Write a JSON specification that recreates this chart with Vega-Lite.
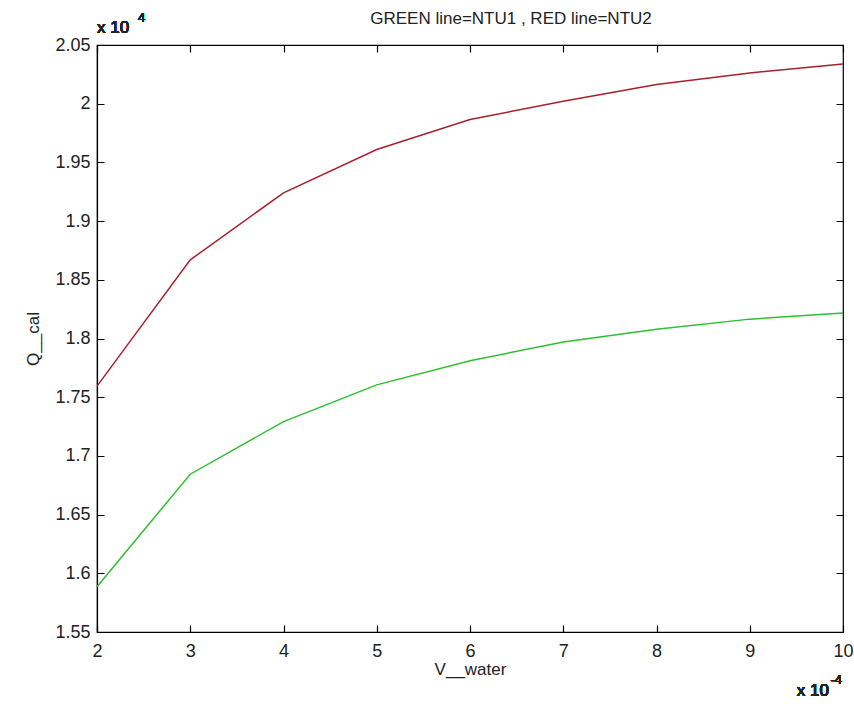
{
  "$schema": "https://vega.github.io/schema/vega-lite/v6.json",
  "width": 746,
  "height": 587,
  "autosize": {"type": "none"},
  "padding": {"left": 97, "top": 45, "right": 11, "bottom": 72},
  "background": "white",
  "title": {
    "text": "GREEN line=NTU1 , RED line=NTU2",
    "fontSize": 17,
    "fontWeight": "normal",
    "font": "Liberation Sans",
    "color": "#222222",
    "anchor": "middle",
    "dx": 41,
    "offset": -16
  },
  "data": {
    "values": [
      {"V_water": 0.0002, "Q_cal": 15886, "series": "NTU1"},
      {"V_water": 0.0003, "Q_cal": 16844, "series": "NTU1"},
      {"V_water": 0.0004, "Q_cal": 17292, "series": "NTU1"},
      {"V_water": 0.0005, "Q_cal": 17605, "series": "NTU1"},
      {"V_water": 0.0006, "Q_cal": 17810, "series": "NTU1"},
      {"V_water": 0.0007, "Q_cal": 17971, "series": "NTU1"},
      {"V_water": 0.0008, "Q_cal": 18079, "series": "NTU1"},
      {"V_water": 0.0009, "Q_cal": 18165, "series": "NTU1"},
      {"V_water": 0.001, "Q_cal": 18218, "series": "NTU1"},
      {"V_water": 0.0002, "Q_cal": 17594, "series": "NTU2"},
      {"V_water": 0.0003, "Q_cal": 18670, "series": "NTU2"},
      {"V_water": 0.0004, "Q_cal": 19241, "series": "NTU2"},
      {"V_water": 0.0005, "Q_cal": 19610, "series": "NTU2"},
      {"V_water": 0.0006, "Q_cal": 19865, "series": "NTU2"},
      {"V_water": 0.0007, "Q_cal": 20021, "series": "NTU2"},
      {"V_water": 0.0008, "Q_cal": 20164, "series": "NTU2"},
      {"V_water": 0.0009, "Q_cal": 20262, "series": "NTU2"},
      {"V_water": 0.001, "Q_cal": 20338, "series": "NTU2"}
    ]
  },
  "layer": [
    {
      "mark": {"type": "line", "strokeWidth": 1.5, "clip": true},
      "encoding": {
        "x": {
          "field": "V_water",
          "type": "quantitative",
          "scale": {"domain": [0.0002, 0.001], "nice": false, "zero": false},
          "axis": {
            "orient": "bottom",
            "title": "V__water",
            "values": [0.0002, 0.0003, 0.0004, 0.0005, 0.0006, 0.0007, 0.0008, 0.0009, 0.001],
            "labelExpr": "'' + round(datum.value * 10000)",
            "ticks": false,
            "grid": true,
            "gridColor": "black",
            "gridWidth": 1.2,
            "gridDash": [7, 573, 7],
            "labelPadding": 10,
            "titlePadding": 1
          }
        },
        "y": {
          "field": "Q_cal",
          "type": "quantitative",
          "scale": {"domain": [15500, 20500], "nice": false, "zero": false},
          "axis": {
            "orient": "left",
            "title": "Q__cal",
            "values": [15500, 16000, 16500, 17000, 17500, 18000, 18500, 19000, 19500, 20000, 20500],
            "labelExpr": "'' + (datum.value / 10000)",
            "ticks": false,
            "grid": true,
            "gridColor": "black",
            "gridWidth": 1.2,
            "gridDash": [7, 732, 7],
            "labelPadding": 7,
            "titlePadding": 12
          }
        },
        "color": {
          "field": "series",
          "type": "nominal",
          "scale": {"domain": ["NTU1", "NTU2"], "range": ["#2fbf2f", "#a8202c"]},
          "legend": null
        },
        "detail": {"field": "series"}
      }
    },
    {
      "mark": {"type": "text", "text": "x 10", "align": "left", "baseline": "alphabetic", "dy": -12, "fontSize": 17, "fontWeight": "normal", "font": "Liberation Sans", "color": "#222222"},
      "encoding": {
        "x": {"datum": 0.0002, "type": "quantitative", "axis": null},
        "y": {"datum": 20500, "type": "quantitative", "axis": null}
      }
    },
    {
      "mark": {"type": "text", "text": "4", "align": "left", "baseline": "alphabetic", "dx": 41, "dy": -23, "fontSize": 13, "fontWeight": "normal", "font": "Liberation Sans", "color": "#222222"},
      "encoding": {
        "x": {"datum": 0.0002, "type": "quantitative", "axis": null},
        "y": {"datum": 20500, "type": "quantitative", "axis": null}
      }
    },
    {
      "mark": {"type": "text", "text": "x 10", "align": "right", "baseline": "alphabetic", "dx": -14, "dy": 64, "fontSize": 17, "fontWeight": "normal", "font": "Liberation Sans", "color": "#222222"},
      "encoding": {
        "x": {"datum": 0.001, "type": "quantitative", "axis": null},
        "y": {"datum": 15500, "type": "quantitative", "axis": null}
      }
    },
    {
      "mark": {"type": "text", "text": "-4", "align": "right", "baseline": "alphabetic", "dx": -1, "dy": 52, "fontSize": 13, "fontWeight": "normal", "font": "Liberation Sans", "color": "#222222"},
      "encoding": {
        "x": {"datum": 0.001, "type": "quantitative", "axis": null},
        "y": {"datum": 15500, "type": "quantitative", "axis": null}
      }
    }
  ],
  "resolve": {"axis": {"x": "independent", "y": "independent"}},
  "config": {
    "view": {"stroke": "black", "strokeWidth": 1.2},
    "axis": {
      "domainColor": "black",
      "domainWidth": 1.2,
      "labelFont": "Liberation Sans",
      "labelFontSize": 18,
      "labelColor": "#222222",
      "titleFont": "Liberation Sans",
      "titleFontSize": 17,
      "titleFontWeight": "normal",
      "titleColor": "#222222",
      "labelOverlap": false,
      "labelFlush": false
    }
  }
}
